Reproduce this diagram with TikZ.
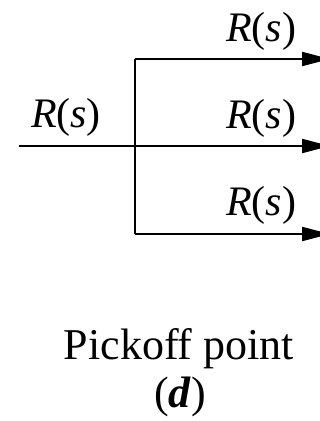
\documentclass[tikz,border=0pt]{standalone}
\usepackage{fontspec}
\setmainfont{Liberation Serif}
\usetikzlibrary{arrows.meta}
\begin{document}
\begin{tikzpicture}[x=1pt,y=-1pt,
  sig/.style={line width=2pt},
  arr/.style={sig,-{Triangle[length=28pt,width=14pt]}},
  lbl/.style={font=\fontsize{42}{46}\selectfont,anchor=base,inner sep=0pt},
  captext/.style={font=\fontsize{44}{48}\selectfont,anchor=base,inner sep=0pt}]
\useasboundingbox (0,0) rectangle (320,421);
\coordinate (in) at (19,146);
\coordinate (j) at (135,146);
\coordinate (jt) at (135,59);
\coordinate (jb) at (135,234);
\coordinate (o1) at (330,59);
\coordinate (o2) at (330,146);
\coordinate (o3) at (330,234);
\draw[sig] (in) -- (j);
\draw[sig] (jt) -- (jb);
\draw[arr] (jt) -- (o1);
\draw[arr] (j) -- (o2);
\draw[arr] (jb) -- (o3);
\node[lbl] (l0) at (66,127) {\textit{R}(\textit{s})};
\node[lbl] (l1) at (261,41) {\textit{R}(\textit{s})};
\node[lbl] (l2) at (261,128) {\textit{R}(\textit{s})};
\node[lbl] (l3) at (261,215) {\textit{R}(\textit{s})};
\node[captext] (c1) at (179,359) {Pickoff point};
\node[captext] (c2) at (180,407) {(\textbf{\textit{d}})};
\end{tikzpicture}
\end{document}
